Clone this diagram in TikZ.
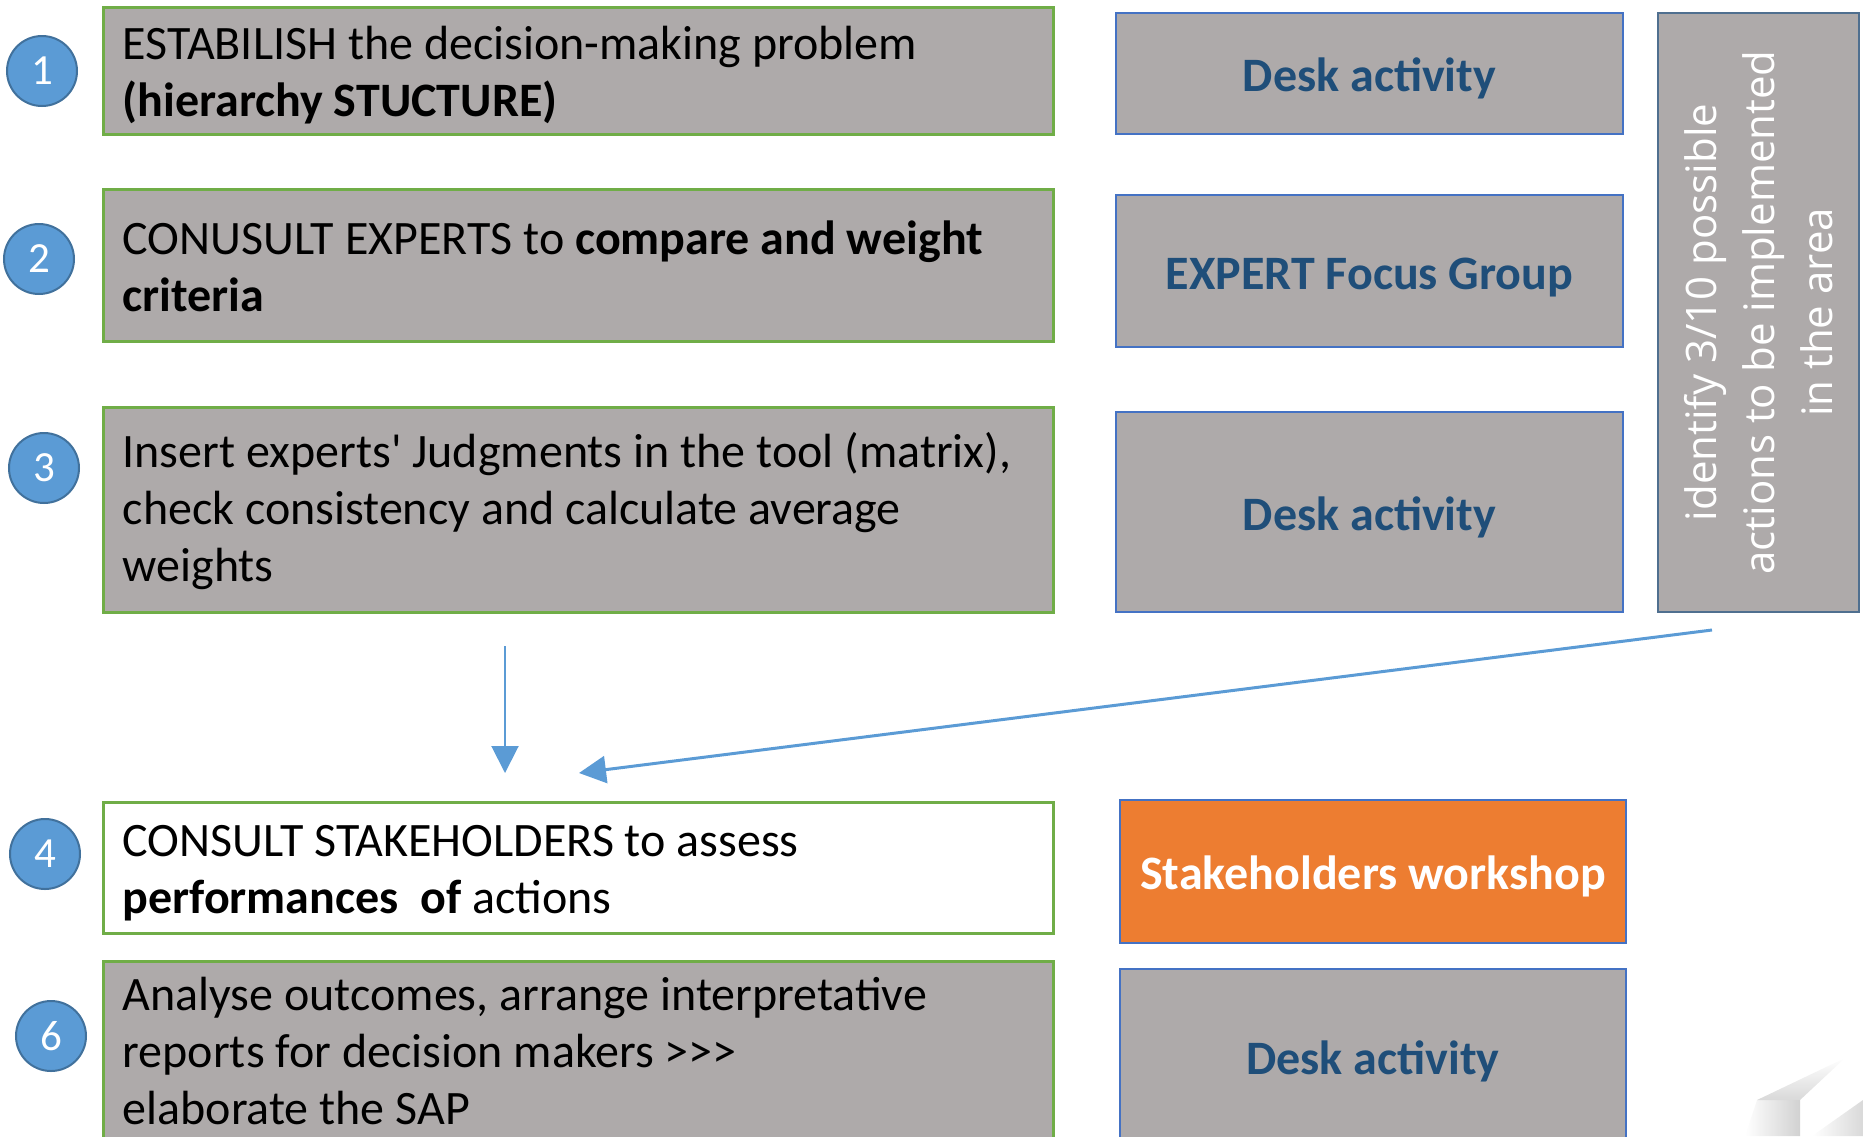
\documentclass[tikz,border=0pt]{standalone}
\usepackage{fontspec}
\setmainfont{Carlito}[Ligatures=TeXOff]
\newfontfamily\osans{Open Sans}[Ligatures=TeXOff]
\usetikzlibrary{arrows.meta}
\definecolor{boxgray}{HTML}{AEAAAA}
\definecolor{stepgreen}{HTML}{70AD47}
\definecolor{edgeblue}{HTML}{4472C4}
\definecolor{deskblue}{HTML}{1F4E79}
\definecolor{wsorange}{HTML}{ED7D31}
\definecolor{circfill}{HTML}{5B9BD5}
\definecolor{circedge}{HTML}{41719C}
\definecolor{arrowblue}{HTML}{5B9BD5}
\definecolor{vedge}{HTML}{4F6F8F}
\begin{document}
\begin{tikzpicture}[x=1pt,y=-1pt,
  stepbox/.style={draw=stepgreen, line width=3pt, fill=boxgray, minimum width=950pt, inner sep=0pt},
  steptext/.style={anchor=west, align=left, inner sep=0pt, font=\fontsize{48}{57}\selectfont},
  actbox/.style={draw=edgeblue, line width=2.5pt, fill=boxgray, minimum width=507pt,
    inner sep=0pt, text height=46pt, text depth=10pt, text=deskblue, font=\fontsize{48}{57}\selectfont\bfseries},
  numcirc/.style={circle, draw=circedge, line width=2pt, fill=circfill, minimum size=70pt,
    inner sep=0pt, text=white, font=\fontsize{43}{48}\selectfont},
  flowarrow/.style={draw=arrowblue, -{Triangle[length=27pt,width=27pt]}}
]
\useasboundingbox (0,0) rectangle (1863,1136);

% left step boxes
\node[stepbox, minimum height=127pt] (s1) at (578,70.5) {};
\node[stepbox, minimum height=152pt] (s2) at (578,265) {};
\node[stepbox, minimum height=205pt] (s3) at (578,509.5) {};
\node[stepbox, fill=white, minimum height=131pt] (s4) at (578,867.5) {};
\node[stepbox, minimum height=180pt] (s6) at (578,1051) {};

\node[steptext] (t1) at ([xshift=21pt, yshift=-5pt]s1.west)
  {ESTABILISH the decision-making problem\\\textbf{(hierarchy STUCTURE)}};
\node[steptext] (t2) at ([xshift=21pt, yshift=-1pt]s2.west)
  {CONUSULT EXPERTS to \textbf{compare and weight}\\\textbf{criteria}};
\node[steptext] (t3) at ([xshift=21pt, yshift=-2pt]s3.west)
  {Insert experts' Judgments in the tool (matrix),\\check consistency and calculate average\\weights};
\node[steptext] (t4) at ([xshift=21pt, yshift=-6pt]s4.west)
  {CONSULT STAKEHOLDERS to assess\\\textbf{performances\ \ of} actions};
\node[steptext] (t6) at ([xshift=21pt]s6.west)
  {Analyse outcomes, arrange interpretative\\reports for decision makers >>>\\elaborate the SAP};

% number circles
\node[numcirc] (c1) at (42,71) {1};
\node[numcirc] (c2) at (39,259) {2};
\node[numcirc] (c3) at (44,468) {3};
\node[numcirc] (c4) at (45,854) {4};
\node[numcirc] (c6) at (51,1036) {6};

% right activity boxes
\node[actbox, minimum height=121pt] (a1) at (1369.5,73.5) {Desk activity};
\node[actbox, minimum height=152pt] (a2) at (1369.5,271) {EXPERT Focus Group};
\node[actbox, minimum height=200pt] (a3) at (1369.5,512) {Desk activity};
\node[actbox, fill=wsorange, text=white, minimum width=506pt, minimum height=143pt] (a4) at (1373,871.5) {Stakeholders workshop};
\node[actbox, minimum width=506pt, minimum height=174pt] (a6) at (1373,1056) {Desk activity};

% vertical box
\node[draw=vedge, line width=2.5pt, fill=boxgray, minimum width=201pt, minimum height=599pt,
  inner sep=0pt] (vb) at (1758.5,312.5) {};
\node[rotate=90, align=center, text=white, inner sep=0pt,
  font=\osans\fontsize{42}{58}\selectfont] (vt) at (vb.center)
  {identify 3/10 possible\\actions to be implemented\\in the area};

% connectors
\coordinate (vstart) at (505,646);
\coordinate (vend) at (505,773);
\coordinate (dstart) at (1712,630);
\coordinate (dend) at (579,773);
\draw[flowarrow, line width=2pt] (vstart) -- (vend);
\draw[flowarrow, line width=3pt] (dstart) -- (dend);

% faint corner decoration
\shade[left color=white, right color=black!18] (1745,1136) -- (1757,1100) -- (1800,1100) -- (1800,1136) -- cycle;
\shade[bottom color=black!15, top color=white] (1757,1100) -- (1845,1058) -- (1800,1100) -- cycle;
\shade[left color=white, right color=black!15] (1812,1136) -- (1863,1100) -- (1863,1136) -- cycle;
\end{tikzpicture}
\end{document}
